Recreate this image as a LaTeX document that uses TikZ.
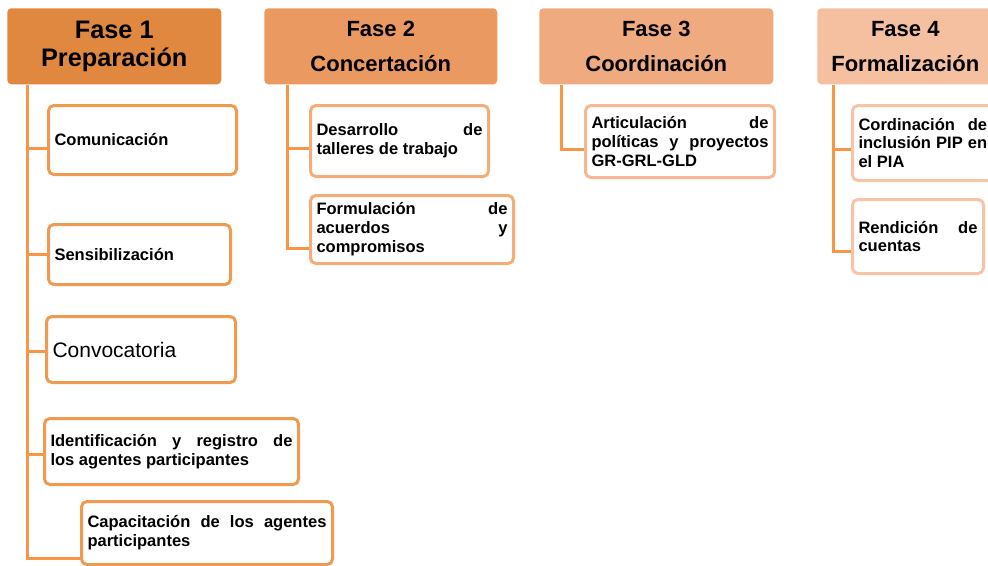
\documentclass[tikz,border=0pt]{standalone}
\usepackage{fontspec}
\setmainfont{Liberation Sans}
\usetikzlibrary{calc}

\definecolor{faseuno}{HTML}{E08840}
\definecolor{fasedos}{HTML}{EA9A60}
\definecolor{fasetres}{HTML}{F0AA80}
\definecolor{fasecuatro}{HTML}{F5C0A0}
\definecolor{bordeuno}{HTML}{F09A50}
\definecolor{bordedos}{HTML}{F5AC78}
\definecolor{bordetres}{HTML}{F6B892}
\definecolor{bordecuatro}{HTML}{F8C4A8}
\definecolor{linea}{HTML}{F79646}

\begin{document}
\begin{tikzpicture}[x=0.75pt,y=-0.75pt]
  \tikzstyle{fase}=[rounded corners=3pt,align=center,inner sep=0pt,anchor=north west,
    minimum height=57pt,font=\bfseries\fontsize{16.5}{26}\selectfont]
  \tikzstyle{tarea}=[draw,fill=white,line width=2.25pt,rounded corners=4pt,align=justify,
    inner xsep=4.5pt,inner ysep=2pt,anchor=north west,font=\bfseries\fontsize{12.4}{14.2}\selectfont]
  \tikzstyle{rama}=[draw=linea,line width=2.25pt]

  \clip (0,0) rectangle (988,565);

  \node[fase,fill=faseuno,minimum width=160.5pt,font=\bfseries\fontsize{19}{21}\selectfont]
    (f_1) at (7,8)   {Fase 1\\Preparación};
  \node[fase,fill=fasedos,minimum width=174.75pt]    (f_2) at (264,8) {Fase 2\\Concertación};
  \node[fase,fill=fasetres,minimum width=175.5pt]    (f_3) at (539,8) {Fase 3\\Coordinación};
  \node[fase,fill=fasecuatro,minimum width=132pt]    (f_4) at (817,8) {Fase 4\\Formalización};

  \node[tarea,draw=bordeuno,text width=132pt,minimum height=51.75pt]   (t_11) at (47,104) {Comunicación};
  \node[tarea,draw=bordeuno,text width=127.5pt,minimum height=45pt]    (t_12) at (47,223) {Sensibilización};
  \node[tarea,draw=bordeuno,text width=132.75pt,minimum height=49.5pt,
        font=\fontsize{15.75}{18}\selectfont]                          (t_13) at (45,315) {Convocatoria};
  \node[tarea,draw=bordeuno,text width=181.5pt,minimum height=49.5pt]  (t_14) at (43,417)
    {Identificación y registro de\linebreak los agentes participantes};
  \node[tarea,draw=bordeuno,text width=179.25pt,minimum height=47.25pt] (t_15) at (80,500)
    {Capacitación de los agentes\linebreak participantes};

  \node[tarea,draw=bordedos,text width=124.5pt,minimum height=53.25pt] (t_21) at (309,104)
    {Desarrollo de\linebreak talleres de trabajo};
  \node[tarea,draw=bordedos,text width=143.25pt,minimum height=51pt]   (t_22) at (309,194)
    {Formulación de\linebreak acuerdos y\linebreak compromisos};

  \node[tarea,draw=bordetres,text width=132.75pt,minimum height=54pt]  (t_31) at (584,104)
    {Articulación de\linebreak políticas y proyectos\linebreak GR-GRL-GLD};

  \node[tarea,draw=bordecuatro,text width=96.5pt,minimum height=56.25pt] (t_41) at (851,104)
    {Cordinación de\linebreak inclusión PIP en\linebreak el PIA};
  \node[tarea,draw=bordecuatro,text width=89.25pt,minimum height=55.5pt]  (t_42) at (851,198)
    {Rendición de\linebreak cuentas};

  \draw[rama] ($(f_1.south west)+(20,0)$) |- ($(t_11.west)+(0,8.5)$);
  \draw[rama] ($(f_1.south west)+(20,0)$) |- (t_12.west);
  \draw[rama] ($(f_1.south west)+(20,0)$) |- ($(t_13.west)+(0,2)$);
  \draw[rama] ($(f_1.south west)+(20,0)$) |- ($(t_14.west)+(0,3)$);
  \draw[rama] ($(f_1.south west)+(20,0)$) |- ($(t_15.south west)+(0,-8)$);

  \draw[rama] ($(f_2.south west)+(23,0)$) |- ($(t_21.west)+(0,7.5)$);
  \draw[rama] ($(f_2.south west)+(23,0)$) |- ($(t_22.west)+(0,19)$);

  \draw[rama] ($(f_3.south west)+(22,0)$) |- ($(t_31.west)+(0,8)$);

  \draw[rama] ($(f_4.south west)+(16,0)$) |- ($(t_41.west)+(0,6.5)$);
  \draw[rama] ($(f_4.south west)+(16,0)$) |- ($(t_42.west)+(0,15)$);
\end{tikzpicture}
\end{document}
